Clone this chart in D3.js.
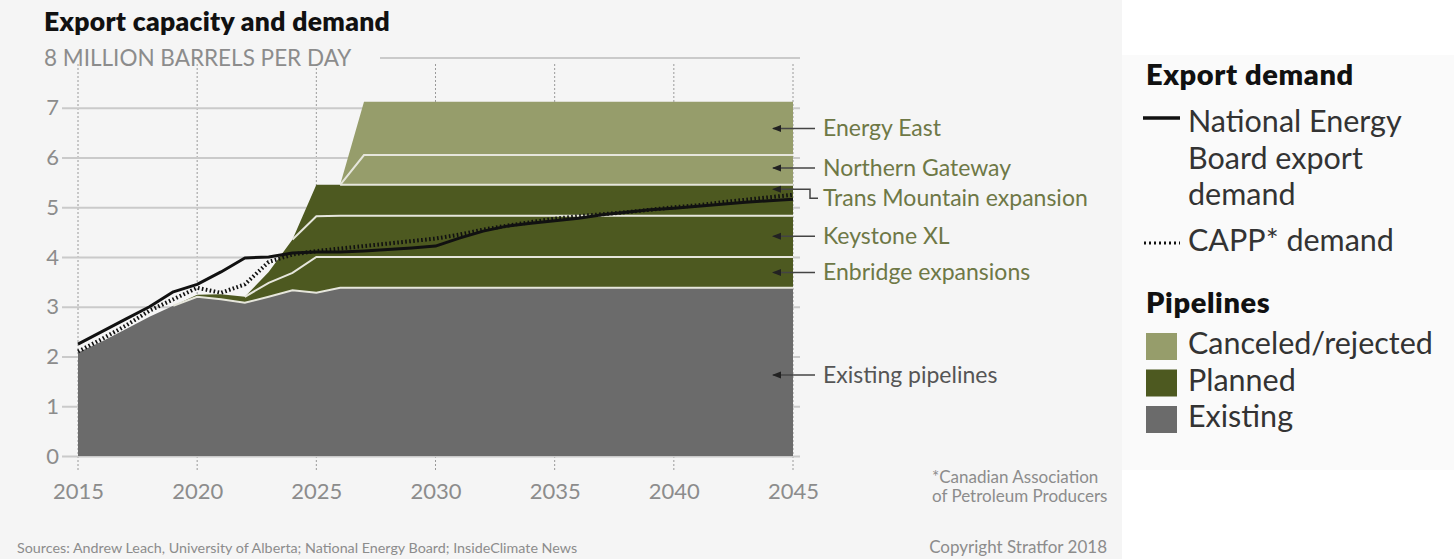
<!DOCTYPE html>
<html><head><meta charset="utf-8">
<script src="https://cdn.jsdelivr.net/npm/d3@7/dist/d3.min.js"></script>
<style>
body{margin:0;background:#fff;}
svg{display:block;font-family:Lato,"Open Sans",sans-serif;}
</style>
</head><body>
<svg id="chart" width="1454" height="559"></svg>
<script>
// ---------------- DATA ----------------
const years = [2015,2016,2017,2018,2019,2020,2021,2022,2023,2024,2025,2026,2027,2028,2029,2030,
  2031,2032,2033,2034,2035,2036,2037,2038,2039,2040,2041,2042,2043,2044,2045];
// pipeline capacity, million barrels per day (each layer's own capacity)
const existing = [2.08,2.3,2.55,2.8,3.02,3.2,3.15,3.08,3.2,3.33,3.28,
  3.38,3.38,3.38,3.38,3.38,3.38,3.38,3.38,3.38,3.38,3.38,3.38,3.38,3.38,3.38,3.38,3.38,3.38,3.38,3.38];
const enbridge = [0,0,0,0,0,0.04,0.1,0.12,0.28,0.35,0.72,
  0.62,0.62,0.62,0.62,0.62,0.62,0.62,0.62,0.62,0.62,0.62,0.62,0.62,0.62,0.62,0.62,0.62,0.62,0.62,0.62];
const keystone = [0,0,0,0,0,0,0,0,0.22,0.67,0.82,
  0.83,0.83,0.83,0.83,0.83,0.83,0.83,0.83,0.83,0.83,0.83,0.83,0.83,0.83,0.83,0.83,0.83,0.83,0.83,0.83];
const transMountain = [0,0,0,0,0,0,0,0,0,0,0.63,
  0.62,0.62,0.62,0.62,0.62,0.62,0.62,0.62,0.62,0.62,0.62,0.62,0.62,0.62,0.62,0.62,0.62,0.62,0.62,0.62];
const northernGateway = [0,0,0,0,0,0,0,0,0,0,0,0,
  0.6,0.6,0.6,0.6,0.6,0.6,0.6,0.6,0.6,0.6,0.6,0.6,0.6,0.6,0.6,0.6,0.6,0.6,0.6];
const energyEast = [0,0,0,0,0,0,0,0,0,0,0,0,
  1.07,1.07,1.07,1.07,1.07,1.07,1.07,1.07,1.07,1.07,1.07,1.07,1.07,1.07,1.07,1.07,1.07,1.07,1.07];
// export demand
const nebDemand = [2.25,2.5,2.75,3.0,3.3,3.45,3.7,3.98,4.0,4.08,4.1,4.1,4.12,4.15,4.18,4.22,
  4.38,4.52,4.62,4.68,4.73,4.78,4.85,4.9,4.95,4.98,5.02,5.06,5.1,5.13,5.16];
const cappDemand = [2.1,2.35,2.62,2.92,3.15,3.38,3.28,3.45,3.9,4.05,4.12,4.17,4.22,4.27,4.32,4.37,
  4.45,4.55,4.63,4.7,4.77,4.82,4.86,4.9,4.95,5.0,5.04,5.1,5.15,5.2,5.25];
const xTicks = [2015,2020,2025,2030,2035,2040,2045];
const yTicks = [0,1,2,3,4,5,6,7];
const layerKeys = ["existing","enbridge","keystone","transMountain","northernGateway","energyEast"];
const layerLabels = ["Existing pipelines","Enbridge expansions","Keystone XL","Trans Mountain expansion","Northern Gateway","Energy East"];
const layerStatus = ["Existing","Planned","Planned","Planned","Canceled/rejected","Canceled/rejected"];

// ---------------- SETUP ----------------
const svg = d3.select("#chart");
const C = {existing:"#6b6b6b", planned:"#4d5920", canceled:"#969d6b", olive:"#6e7846",
  grid:"#cacaca", axisText:"#8c8c8c", sep:"#e6e6dc"};
const statusColor = {"Existing":C.existing,"Planned":C.planned,"Canceled/rejected":C.canceled};

svg.append("rect").attr("x",0).attr("y",0).attr("width",1122).attr("height",559).attr("fill","#f5f5f5");
svg.append("rect").attr("x",1122).attr("y",55).attr("width",332).attr("height",415).attr("fill","#fafafa");

const x = d3.scaleLinear().domain([2015,2045]).range([78,793]);
const y = d3.scaleLinear().domain([0,8]).range([456,58]);

// vertical dotted guides
svg.append("g").selectAll("line").data(xTicks).join("line")
  .attr("x1",d=>x(d)).attr("x2",d=>x(d)).attr("y1",64).attr("y2",472)
  .attr("stroke","#9a9a9a").attr("stroke-width",1).attr("stroke-dasharray","2,2");

// y axis with gridlines
const yAxis = svg.append("g").attr("transform","translate(62,0)")
  .call(d3.axisLeft(y).tickValues(yTicks).tickSize(-738).tickPadding(3).tickFormat(d3.format("d")));
yAxis.select(".domain").remove();
yAxis.selectAll(".tick line").attr("stroke",C.grid).attr("stroke-width",2);
yAxis.selectAll(".tick text").attr("fill",C.axisText).attr("font-size",22).attr("font-family","Lato");
// top gridline (8) after the unit label
svg.append("line").attr("x1",380).attr("x2",800).attr("y1",y(8)).attr("y2",y(8))
  .attr("stroke",C.grid).attr("stroke-width",2);
svg.append("text").attr("x",44).attr("y",y(8)+8).attr("font-size",22.5).attr("fill",C.axisText)
  .text("8 MILLION BARRELS PER DAY");

// x axis labels
const xAxis = svg.append("g").attr("transform","translate(0,483)")
  .call(d3.axisBottom(x).tickValues(xTicks).tickSize(0).tickPadding(0).tickFormat(d3.format("d")));
xAxis.select(".domain").remove();
xAxis.selectAll(".tick text").attr("fill",C.axisText).attr("font-size",22).attr("font-family","Lato");

// ---------------- AREAS ----------------
const series = {existing,enbridge,keystone,transMountain,northernGateway,energyEast};
const table = years.map((yr,i)=>{
  const row = {year:yr};
  layerKeys.forEach(k=>row[k]=series[k][i]);
  return row;
});
const stacked = d3.stack().keys(layerKeys)(table);
const area = d3.area().x(d=>x(d.data.year)).y0(d=>y(d[0])).y1(d=>y(d[1]));
svg.append("g").selectAll("path").data(stacked).join("path")
  .attr("d",area).attr("fill",(d,i)=>statusColor[layerStatus[i]]);

// separators between layers (where something sits above)
const topLayer = stacked[stacked.length-1];
const hasAbove = (j,lvl)=> topLayer[j][1]-lvl[j][1] > 0.001;
stacked.slice(0,-1).forEach(lvl=>{
  const sepLine = d3.line()
    .defined((d,j)=> hasAbove(j,lvl) || (j+1<lvl.length && hasAbove(j+1,lvl)))
    .x(d=>x(d.data.year)).y(d=>y(d[1]));
  svg.append("path").attr("d",sepLine(lvl)).attr("fill","none")
    .attr("stroke",C.sep).attr("stroke-width",2);
});

// ---------------- DEMAND LINES ----------------
const demandLine = d3.line().x((d,i)=>x(years[i])).y(d=>y(d));
svg.append("path").attr("d",demandLine(cappDemand)).attr("fill","none")
  .attr("stroke","#111").attr("stroke-width",4).attr("stroke-dasharray","1.6,2.4");
svg.append("path").attr("d",demandLine(nebDemand)).attr("fill","none")
  .attr("stroke","#111").attr("stroke-width",3).attr("stroke-linejoin","round");

// ---------------- ANNOTATIONS ----------------
const lastIdx = years.length-1;
const tipX = x(2045)-20, textX = x(2045)+30;
stacked.forEach((lvl,i)=>{
  const mid = y((lvl[lastIdx][0]+lvl[lastIdx][1])/2);
  const key = layerKeys[i];
  let ay = mid, ty = mid;
  const g = svg.append("g");
  if(key==="transMountain"){
    ay = mid-11; ty = mid-2;
    g.append("path").attr("d",`M${tipX},${ay}H${tipX+37}V${ty}H${tipX+45}`)
      .attr("fill","none").attr("stroke","#444").attr("stroke-width",1.5);
  } else {
    if(key==="northernGateway") { ay = mid-2; ty = mid-2; }
    if(key==="existing") { ay = mid+3; ty = mid+3; }
    g.append("line").attr("x1",tipX).attr("x2",tipX+42).attr("y1",ay).attr("y2",ay)
      .attr("stroke","#444").attr("stroke-width",1.5);
  }
  g.append("path").attr("d",`M${tipX-1},${ay}L${tipX+8},${ay-3.5}L${tipX+8},${ay+3.5}Z`).attr("fill","#222");
  g.append("text").attr("x",textX).attr("y",ty).attr("dy","0.35em").attr("font-size",23)
    .attr("fill", key==="existing" ? "#555" : C.olive).text(layerLabels[i]);
});

// ---------------- TITLE / NOTES ----------------
svg.append("text").attr("x",44).attr("y",31).attr("font-size",26.5).attr("font-weight",800)
  .attr("letter-spacing",0.3).attr("fill","#111").text("Export capacity and demand");
svg.append("text").attr("x",932).attr("y",483).attr("font-size",17).attr("fill",C.axisText)
  .text("*Canadian Association");
svg.append("text").attr("x",932).attr("y",502).attr("font-size",17).attr("fill",C.axisText)
  .text("of Petroleum Producers");
svg.append("text").attr("x",17).attr("y",553).attr("font-size",14.3).attr("fill",C.axisText)
  .text("Sources: Andrew Leach, University of Alberta; National Energy Board; InsideClimate News");
svg.append("text").attr("x",1107).attr("y",553).attr("text-anchor","end").attr("font-size",17)
  .attr("fill",C.axisText).text("Copyright Stratfor 2018");

// ---------------- LEGEND ----------------
const L = svg.append("g");
const lt = "#333";
L.append("text").attr("x",1146).attr("y",85).attr("font-size",29).attr("font-weight",800)
  .attr("letter-spacing",0.6).attr("fill","#111").text("Export demand");
L.append("line").attr("x1",1143).attr("x2",1180).attr("y1",118).attr("y2",118).attr("stroke","#111").attr("stroke-width",3.5);
["National Energy","Board export","demand"].forEach((t,i)=>
  L.append("text").attr("x",1188).attr("y",132+i*36.5).attr("font-size",30.5).attr("fill",lt).text(t));
L.append("line").attr("x1",1144).attr("x2",1180).attr("y1",243).attr("y2",243).attr("stroke","#111")
  .attr("stroke-width",3).attr("stroke-dasharray","2,3");
L.append("text").attr("x",1188).attr("y",251).attr("font-size",30.5).attr("fill",lt).text("CAPP* demand");
L.append("text").attr("x",1146).attr("y",313).attr("font-size",29).attr("font-weight",800)
  .attr("letter-spacing",0.6).attr("fill","#111").text("Pipelines");
const legendItems = ["Canceled/rejected","Planned","Existing"];
legendItems.forEach((t,i)=>{
  L.append("rect").attr("x",1146).attr("y",333+i*36.5).attr("width",31).attr("height",27).attr("fill",statusColor[t]);
  L.append("text").attr("x",1188).attr("y",354+i*36.5).attr("font-size",30.5).attr("fill",lt).text(t);
});
</script>
</body></html>
